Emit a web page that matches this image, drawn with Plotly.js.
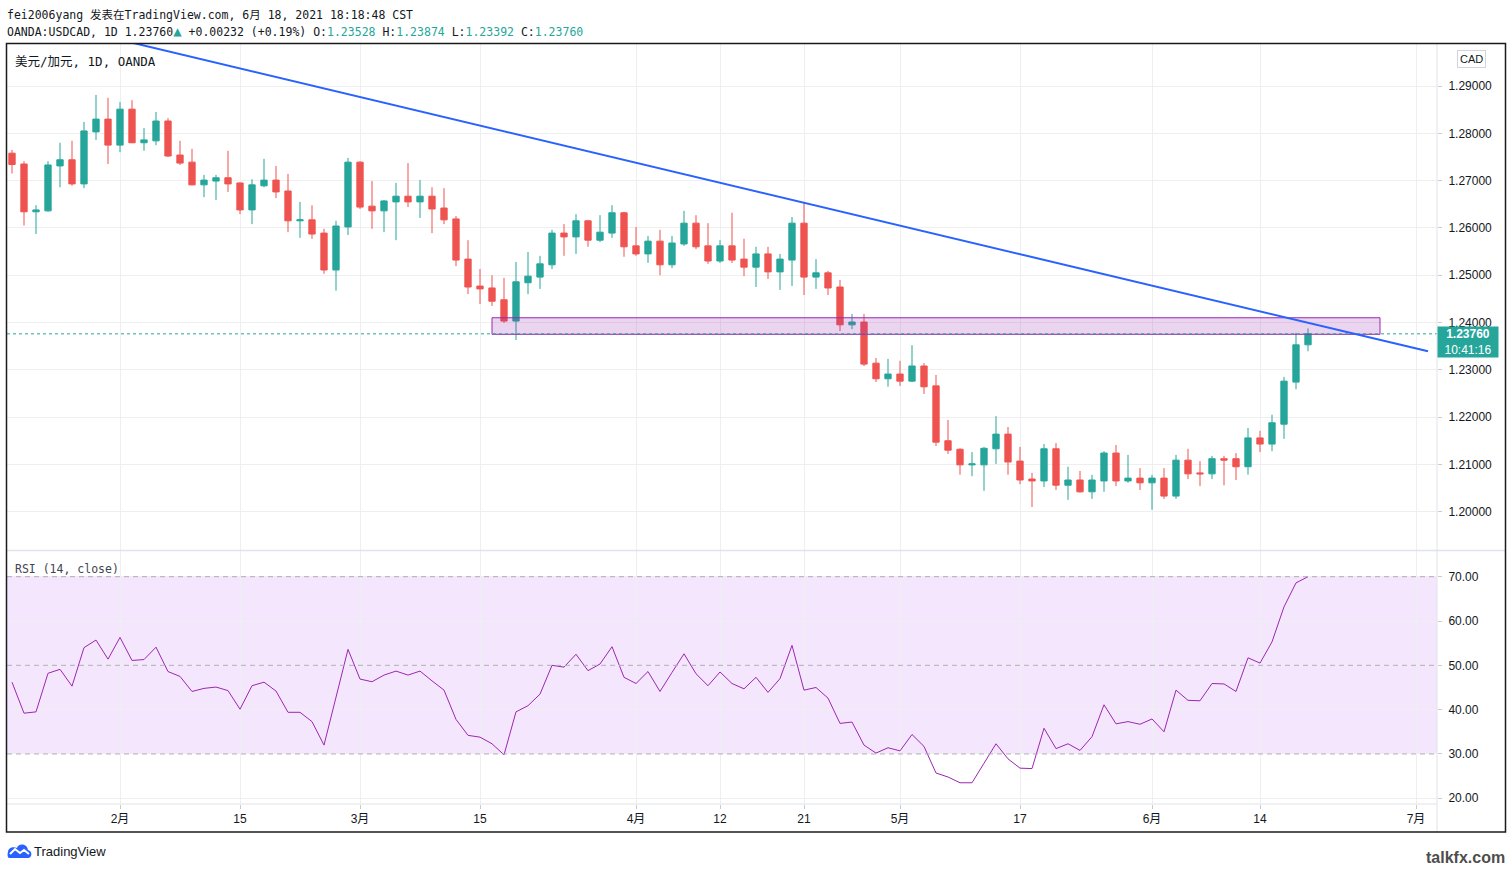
<!DOCTYPE html>
<html>
<head>
<meta charset="utf-8">
<script src="https://cdn.plot.ly/plotly-3.0.1.min.js"></script>
<style>
html,body{margin:0;padding:0;background:#fff;}
#chart{width:1512px;height:869px;}
</style>
</head>
<body>
<div id="chart"></div>
<script>
// ---------- DATA ----------
const dates = [
'2021-01-19','2021-01-20','2021-01-21','2021-01-22','2021-01-25','2021-01-26','2021-01-27','2021-01-28','2021-01-29',
'2021-02-01','2021-02-02','2021-02-03','2021-02-04','2021-02-05','2021-02-08','2021-02-09','2021-02-10','2021-02-11','2021-02-12',
'2021-02-15','2021-02-16','2021-02-17','2021-02-18','2021-02-19','2021-02-22','2021-02-23','2021-02-24','2021-02-25','2021-02-26',
'2021-03-01','2021-03-02','2021-03-03','2021-03-04','2021-03-05','2021-03-08','2021-03-09','2021-03-10','2021-03-11','2021-03-12',
'2021-03-15','2021-03-16','2021-03-17','2021-03-18','2021-03-19','2021-03-22','2021-03-23','2021-03-24','2021-03-25','2021-03-26',
'2021-03-29','2021-03-30','2021-03-31','2021-04-01','2021-04-02','2021-04-05','2021-04-06','2021-04-07','2021-04-08','2021-04-09',
'2021-04-12','2021-04-13','2021-04-14','2021-04-15','2021-04-16','2021-04-19','2021-04-20','2021-04-21','2021-04-22','2021-04-23',
'2021-04-26','2021-04-27','2021-04-28','2021-04-29','2021-04-30','2021-05-03','2021-05-04','2021-05-05','2021-05-06','2021-05-07',
'2021-05-10','2021-05-11','2021-05-12','2021-05-13','2021-05-14','2021-05-17','2021-05-18','2021-05-19','2021-05-20','2021-05-21',
'2021-05-24','2021-05-25','2021-05-26','2021-05-27','2021-05-28','2021-05-31','2021-06-01','2021-06-02','2021-06-03','2021-06-04',
'2021-06-07','2021-06-08','2021-06-09','2021-06-10','2021-06-11','2021-06-14','2021-06-15','2021-06-16','2021-06-17','2021-06-18'
];
const opens = [
1.2758,1.2735,1.2634,1.2636,1.2731,1.2744,1.2693,1.2803,1.2830,
1.2775,1.2851,1.2780,1.2784,1.2826,1.2754,1.2739,1.2691,1.2699,1.2706,
1.2695,1.2638,1.2689,1.2701,1.2678,1.2615,1.2617,1.2589,1.2511,1.2602,
1.2739,1.2646,1.2636,1.2655,1.2667,1.2655,1.2667,1.2642,1.2619,1.2534,
1.2477,1.2473,1.2448,1.2403,1.2484,1.2496,1.2522,1.2589,1.2581,1.2615,
1.2574,1.2589,1.2632,1.2562,1.2545,1.2572,1.2522,1.2566,1.2610,1.2562,
1.2530,1.2562,1.2534,1.2517,1.2545,1.2507,1.2532,1.2610,1.2496,1.2505,
1.2475,1.2395,1.2401,1.2314,1.2281,1.2291,1.2276,1.2308,1.2266,1.2150,
1.2132,1.2099,1.2099,1.2133,1.2164,1.2107,1.2069,1.2065,1.2133,1.2056,
1.2067,1.2042,1.2065,1.2124,1.2065,1.2071,1.2061,1.2071,1.2033,1.2109,
1.2082,1.2080,1.2112,1.2112,1.2095,1.2156,1.2143,1.2185,1.2274,1.23528
];
const highs = [
1.2765,1.2741,1.2648,1.2741,1.2780,1.2784,1.2824,1.2881,1.2875,
1.2866,1.2870,1.2811,1.2845,1.2832,1.2784,1.2767,1.2712,1.2712,1.2763,
1.2696,1.2703,1.2746,1.2731,1.2714,1.2655,1.2648,1.2598,1.2615,1.2748,
1.2741,1.2699,1.2659,1.2695,1.2737,1.2701,1.2686,1.2684,1.2625,1.2574,
1.2513,1.2500,1.2494,1.2528,1.2549,1.2541,1.2596,1.2608,1.2629,1.2617,
1.2627,1.2648,1.2634,1.2602,1.2583,1.2596,1.2583,1.2636,1.2627,1.2610,
1.2574,1.2632,1.2577,1.2560,1.2560,1.2545,1.2623,1.2655,1.2534,1.2509,
1.2490,1.2418,1.2418,1.2325,1.2323,1.2319,1.2352,1.2314,1.2289,1.2194,
1.2134,1.2126,1.2137,1.2202,1.2179,1.2137,1.2082,1.2143,1.2145,1.2095,
1.2086,1.2078,1.2128,1.2141,1.2120,1.2092,1.2078,1.2092,1.2120,1.2133,
1.2107,1.2118,1.2118,1.2124,1.2177,1.2171,1.2205,1.2285,1.2378,1.23874
];
const lows = [
1.2715,1.2605,1.2587,1.2634,1.2686,1.2689,1.2684,1.2786,1.2735,
1.2760,1.2779,1.2763,1.2775,1.2750,1.2733,1.2690,1.2665,1.2659,1.2676,
1.2629,1.2608,1.2686,1.2663,1.2591,1.2579,1.2577,1.2503,1.2467,1.2585,
1.2640,1.2598,1.2591,1.2574,1.2644,1.2621,1.2589,1.2608,1.2519,1.2460,
1.2439,1.2435,1.2399,1.2363,1.2460,1.2471,1.2513,1.2541,1.2545,1.2560,
1.2570,1.2579,1.2539,1.2541,1.2526,1.2500,1.2515,1.2562,1.2555,1.2524,
1.2526,1.2526,1.2498,1.2475,1.2492,1.2469,1.2477,1.2458,1.2471,1.2458,
1.2382,1.2386,1.2308,1.2274,1.2264,1.2266,1.2274,1.2249,1.2139,1.2122,
1.2078,1.2075,1.2044,1.2101,1.2078,1.2058,1.2010,1.2052,1.2046,1.2025,
1.2040,1.2027,1.2042,1.2054,1.2061,1.2046,1.2004,1.2027,1.2027,1.2069,
1.2054,1.2069,1.2056,1.2067,1.2078,1.2126,1.2128,1.2154,1.2259,1.23392
];
const closes = [
1.2734,1.2634,1.2638,1.2733,1.2744,1.2693,1.2805,1.2830,1.2775,
1.2851,1.2780,1.2786,1.2826,1.2752,1.2737,1.2691,1.2701,1.2706,1.2693,
1.2638,1.2691,1.2701,1.2676,1.2615,1.2617,1.2587,1.2511,1.2604,1.2739,
1.2644,1.2636,1.2657,1.2667,1.2655,1.2667,1.2640,1.2617,1.2532,1.2475,
1.2471,1.2445,1.2403,1.2486,1.2498,1.2524,1.2589,1.2581,1.2615,1.2574,
1.2591,1.2632,1.2560,1.2545,1.2572,1.2522,1.2568,1.2610,1.2560,1.2530,
1.2562,1.2532,1.2517,1.2545,1.2507,1.2534,1.2610,1.2496,1.2505,1.2473,
1.2395,1.2401,1.2312,1.2281,1.2291,1.2276,1.2308,1.2264,1.2147,1.2130,
1.2099,1.2101,1.2134,1.2164,1.2105,1.2067,1.2065,1.2133,1.2056,1.2067,
1.2042,1.2067,1.2124,1.2065,1.2071,1.2061,1.2071,1.2033,1.2109,1.2080,
1.2080,1.2112,1.2109,1.2095,1.2156,1.2143,1.2188,1.2276,1.23528,1.23760
];
const rsi = [
46.2,39.2,39.5,48.2,49.1,45.3,54.0,55.7,51.4,
56.3,51.1,51.3,54.1,48.6,47.5,44.1,44.8,45.1,44.3,
40.1,45.4,46.2,44.2,39.4,39.4,37.3,32.0,42.8,53.6,
46.9,46.3,47.8,48.7,47.8,48.7,46.5,44.4,37.8,34.2,
33.8,32.3,29.8,39.5,40.9,43.5,50.0,49.6,52.5,48.8,
50.3,54.2,47.3,45.9,48.6,44.1,48.4,52.6,48.1,45.4,
48.5,45.9,44.7,47.3,43.9,47.0,54.5,44.4,45.0,42.6,
36.9,37.2,32.0,30.2,31.4,30.7,34.4,31.7,25.7,24.8,
23.5,23.5,27.9,32.3,28.9,26.8,26.7,35.8,31.2,32.3,
30.8,33.9,41.1,36.8,37.3,36.7,37.9,35.0,44.4,42.1,
42.0,45.9,45.8,44.1,51.7,50.5,55.3,63.2,68.6,70.0
];
const tickDates  = ['2021-02-01','2021-02-15','2021-03-01','2021-03-15','2021-04-01','2021-04-12','2021-04-21','2021-05-03','2021-05-17','2021-06-01','2021-06-14','2021-07-01'];
const tickLabels = ['2月','15','3月','15','4月','12','21','5月','17','6月','14','7月'];
const trendDates  = ['2021-01-19','2021-07-02'];
const trendPrices = [1.3052, 1.2339];
const zoneDates  = ['2021-03-16','2021-06-28'];
const zonePrices = [1.2375, 1.2410];
const rsiLevels = [30, 50, 70];
const symbol = 'OANDA:USDCAD';
const countdown = '10:41:16';

// ---------- STYLE ----------
const UP = '#26a69a', DOWN = '#ef5350';
const GRID = '#efefef';
const MONO = 'DejaVu Sans Mono, Noto Sans CJK SC, monospace';
const SANS = 'Liberation Sans, Noto Sans CJK SC, sans-serif';

const n = closes.length;
const lastO = opens[n-1], lastH = highs[n-1], lastL = lows[n-1], lastC = closes[n-1];
const chg = lastC - closes[n-2];
const pct = chg / closes[n-2] * 100;
const g = s => '<span style="color:' + UP + '">' + s + '</span>';
const header2 = symbol + ', 1D ' + lastC.toFixed(5) + '<span style="color:' + UP + ';font-size:14px">▲</span>' +
  ' ' + (chg >= 0 ? '+' : '') + chg.toFixed(5) +
  ' (' + (chg >= 0 ? '+' : '') + pct.toFixed(2) + '%) O:' + g(lastO.toFixed(5)) + ' H:' + g(lastH.toFixed(5)) +
  ' L:' + g(lastL.toFixed(5)) + ' C:' + g(lastC.toFixed(5));

const candles = {
  type: 'candlestick', x: dates, open: opens, high: highs, low: lows, close: closes,
  xaxis: 'x', yaxis: 'y',
  increasing: {line: {color: UP, width: 1}, fillcolor: UP},
  decreasing: {line: {color: DOWN, width: 1}, fillcolor: DOWN},
  whiskerwidth: 0, hoverinfo: 'skip'
};
const rsiTrace = {
  type: 'scatter', mode: 'lines', x: dates, y: rsi, xaxis: 'x', yaxis: 'y2',
  line: {color: '#9c27b0', width: 1}, hoverinfo: 'skip'
};

// pixel helpers for paper coordinates (plot area: x 7..1437, y 44..804)
const px = x => (x - 7) / 1430;
const py = y => (804 - y) / 760;

const shapes = [
  {type: 'rect', xref: 'paper', yref: 'y2', x0: 0, x1: 1, y0: rsiLevels[0], y1: rsiLevels[2],
   fillcolor: '#f4e6fd', line: {width: 0}, layer: 'below'},
];
rsiLevels.forEach(v => shapes.push({type: 'line', xref: 'paper', yref: 'y2', x0: 0, x1: 1, y0: v, y1: v,
  line: {color: '#b3acbb', width: 1, dash: '5px,4px'}, layer: 'above'}));
shapes.push(
  {type: 'rect', xref: 'x', yref: 'y', x0: zoneDates[0], x1: zoneDates[1], y0: zonePrices[0], y1: zonePrices[1],
   fillcolor: 'rgba(156,39,176,0.2)', line: {color: '#9c27b0', width: 1}, layer: 'above'},
  {type: 'line', xref: 'paper', yref: 'y', x0: 0, x1: 1, y0: lastC, y1: lastC,
   line: {color: UP, width: 1, dash: 'dot'}, layer: 'above'},
  {type: 'line', xref: 'x', yref: 'y', x0: trendDates[0], x1: trendDates[1], y0: trendPrices[0], y1: trendPrices[1],
   line: {color: '#2962ff', width: 2}, layer: 'above'},
  {type: 'line', xref: 'paper', yref: 'paper', x0: px(7), x1: px(1505), y0: py(550.5), y1: py(550.5),
   line: {color: '#e0e3eb', width: 1.5}},
  {type: 'line', xref: 'paper', yref: 'paper', x0: 0, x1: 1, y0: 0, y1: 0, line: {color: '#e0e3eb', width: 1}},
  {type: 'line', xref: 'paper', yref: 'paper', x0: 1, x1: 1, y0: py(832), y1: py(44), line: {color: '#e0e3eb', width: 1}},
  {type: 'rect', xref: 'paper', yref: 'paper', x0: px(6.5), x1: px(1505.5), y0: py(832), y1: py(43.5),
   line: {color: '#1b1b1b', width: 1.5}, fillcolor: 'rgba(0,0,0,0)'},
  {type: 'path', xref: 'paper', yref: 'paper', xsizemode: 'pixel', ysizemode: 'pixel',
   xanchor: px(7), yanchor: py(858),
   path: 'M 2,0 L 21,0 C 25,0 26,7 21,8 C 20,15 11,15 10,10 C 6,12 1,10 1,6 C 0,3 1,0 2,0 Z',
   fillcolor: '#2962ff', line: {width: 0}},
  {type: 'path', xref: 'paper', yref: 'paper', xsizemode: 'pixel', ysizemode: 'pixel',
   xanchor: px(7), yanchor: py(858),
   path: 'M 3,4 L 8,9 L 13,5 L 17,8 L 22,4',
   line: {color: '#ffffff', width: 2}}
);

const annotations = [
  {xref: 'paper', yref: 'paper', x: px(5), y: py(15), xanchor: 'left', yanchor: 'middle', showarrow: false,
   text: 'fei2006yang 发表在TradingView.com, 6月 18, 2021 18:18:48 CST', font: {family: MONO, size: 11.5, color: '#131722'}},
  {xref: 'paper', yref: 'paper', x: px(5), y: py(31.5), xanchor: 'left', yanchor: 'middle', showarrow: false,
   text: header2, font: {family: MONO, size: 11.5, color: '#131722'}},
  {xref: 'paper', yref: 'paper', x: px(13), y: py(62), xanchor: 'left', yanchor: 'middle', showarrow: false,
   text: '美元/加元, 1D, OANDA', font: {family: MONO, size: 12.5, color: '#131722'}},
  {xref: 'paper', yref: 'paper', x: px(13), y: py(569), xanchor: 'left', yanchor: 'middle', showarrow: false,
   text: 'RSI (14, close)', font: {family: MONO, size: 11.5, color: '#434651'}},
  {xref: 'paper', yref: 'paper', x: px(1471.5), y: py(59.5), xanchor: 'center', yanchor: 'middle', showarrow: false,
   text: 'CAD', font: {family: SANS, size: 11, color: '#131722'}, bordercolor: '#d1d4dc', borderwidth: 1, borderpad: 2, bgcolor: '#fff'},
  {xref: 'paper', yref: 'y', x: 1, y: lastC, xanchor: 'left', yanchor: 'top', yshift: 8, showarrow: false,
   text: '<b>' + lastC.toFixed(5) + '</b><br>' + countdown, align: 'center', width: 58, height: 28, borderpad: 1,
   bgcolor: UP, font: {family: SANS, size: 12, color: '#ffffff'}},
  {xref: 'paper', yref: 'paper', x: px(32), y: py(851), xanchor: 'left', yanchor: 'middle', showarrow: false,
   text: 'TradingView', font: {family: SANS, size: 13, color: '#131722'}},
  {xref: 'paper', yref: 'paper', x: px(1507), y: py(858), xanchor: 'right', yanchor: 'middle', showarrow: false,
   text: '<b>talkfx.com</b>', font: {family: SANS, size: 16, color: '#4d4d4d'}}
];

const layout = {
  width: 1512, height: 869,
  margin: {l: 7, r: 75, t: 44, b: 65, pad: 0},
  paper_bgcolor: '#ffffff', plot_bgcolor: '#ffffff',
  showlegend: false, hovermode: false, dragmode: false,
  boxgap: 0.25,
  font: {family: SANS, size: 12, color: '#131722'},
  xaxis: {
    type: 'date', anchor: 'y2', domain: [0, 1],
    range: ['2021-01-18 14:00', '2021-07-02 18:00'],
    rangebreaks: [{bounds: ['sat', 'mon']}],
    rangeslider: {visible: false},
    tickmode: 'array', tickvals: tickDates, ticktext: tickLabels,
    showgrid: true, gridcolor: GRID, gridwidth: 1,
    ticks: 'outside', ticklen: 4, tickcolor: '#c8cad0',
    showline: false, zeroline: false,
    tickfont: {family: SANS, size: 12, color: '#131722'}
  },
  yaxis: {
    domain: [(804 - 550) / 760, 1], anchor: 'x', side: 'right',
    range: [1.19190, 1.298879],
    tick0: 1.2, dtick: 0.01, tickformat: '.5f',
    showgrid: true, gridcolor: GRID, gridwidth: 1,
    ticks: 'outside', ticklen: 4, tickcolor: '#c8cad0', ticklabelstandoff: 4,
    zeroline: false, showline: false, fixedrange: true,
    tickfont: {family: SANS, size: 12, color: '#131722'}
  },
  yaxis2: {
    domain: [0, (804 - 551) / 760], anchor: 'x', side: 'right',
    range: [18.71, 75.80],
    tickmode: 'array', tickvals: [20, 30, 40, 50, 60, 70], tickformat: '.2f',
    showgrid: true, gridcolor: GRID, gridwidth: 1,
    ticks: 'outside', ticklen: 4, tickcolor: '#c8cad0', ticklabelstandoff: 4,
    zeroline: false, showline: false, fixedrange: true,
    tickfont: {family: SANS, size: 12, color: '#131722'}
  },
  shapes: shapes,
  annotations: annotations
};

Plotly.newPlot('chart', [candles, rsiTrace], layout, {staticPlot: true, displayModeBar: false});
</script>
</body>
</html>
